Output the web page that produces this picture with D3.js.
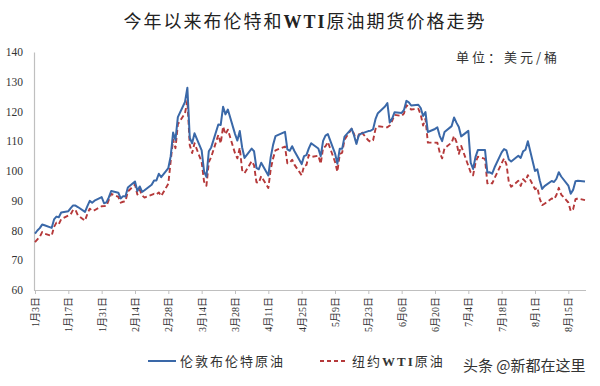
<!DOCTYPE html>
<html><head><meta charset="utf-8">
<script src="https://cdn.jsdelivr.net/npm/d3@7"></script>
<style>body{margin:0;background:#fff}svg{display:block}</style>
</head><body>
<svg id="c" width="600" height="386"></svg>
<script>
// ---- data (2022 trading days) ----
const dates = [
"01-03","01-04","01-05","01-06","01-07","01-10","01-11","01-12","01-13","01-14","01-17","01-18","01-19","01-20","01-21","01-24","01-25","01-26","01-27","01-28","01-31",
"02-01","02-02","02-03","02-04","02-07","02-08","02-09","02-10","02-11","02-14","02-15","02-16","02-17","02-18","02-21","02-22","02-23","02-24","02-25","02-28",
"03-01","03-02","03-03","03-04","03-07","03-08","03-09","03-10","03-11","03-14","03-15","03-16","03-17","03-18","03-21","03-22","03-23","03-24","03-25","03-28","03-29","03-30","03-31",
"04-01","04-04","04-05","04-06","04-07","04-08","04-11","04-12","04-13","04-14","04-18","04-19","04-20","04-21","04-22","04-25","04-26","04-27","04-28","04-29",
"05-02","05-03","05-04","05-05","05-06","05-09","05-10","05-11","05-12","05-13","05-16","05-17","05-18","05-19","05-20","05-23","05-24","05-25","05-26","05-27","05-30","05-31",
"06-01","06-02","06-03","06-06","06-07","06-08","06-09","06-10","06-13","06-14","06-15","06-16","06-17","06-20","06-21","06-22","06-23","06-24","06-27","06-28","06-29","06-30",
"07-01","07-04","07-05","07-06","07-07","07-08","07-11","07-12","07-13","07-14","07-15","07-18","07-19","07-20","07-21","07-22","07-25","07-26","07-27","07-28","07-29",
"08-01","08-02","08-03","08-04","08-05","08-08","08-09","08-10","08-11","08-12","08-15","08-16","08-17","08-18","08-19","08-22"
];
const brent = [
78.98,80.00,80.80,81.99,81.75,80.87,83.72,84.67,84.47,86.06,86.48,87.51,88.44,88.38,87.89,86.27,88.20,89.96,89.34,90.03,91.21,
89.16,89.47,91.11,93.27,92.69,90.78,91.55,91.41,94.44,96.48,93.28,94.81,92.97,93.54,95.39,96.84,96.84,99.08,97.93,100.99,
104.97,112.93,110.46,118.11,123.21,127.98,111.14,109.33,112.67,106.90,99.91,98.02,106.64,107.93,115.62,115.48,121.60,119.03,120.65,112.48,110.23,113.45,107.91,
104.39,107.53,106.64,101.07,100.58,102.78,98.48,104.64,108.78,111.70,113.16,107.25,106.80,108.33,106.65,102.32,104.99,105.32,107.59,109.34,
107.58,104.97,110.14,111.90,112.39,105.94,102.46,107.51,107.45,111.55,114.24,111.93,109.11,112.04,112.55,113.42,113.56,114.03,117.40,119.43,121.67,122.84,
116.29,117.61,119.72,119.51,120.57,123.58,123.07,122.01,122.27,121.17,118.51,119.81,113.12,114.13,114.65,111.74,110.05,113.12,115.09,117.98,116.26,114.81,
111.63,113.50,102.77,100.69,104.65,107.02,107.10,99.49,99.57,99.10,101.16,106.27,107.35,106.92,103.86,103.20,105.15,104.40,106.62,107.14,110.01,
100.03,100.54,96.78,93.96,94.92,96.65,96.31,97.40,99.60,98.15,95.10,92.34,93.65,96.59,96.72,96.48
];
const wti = [
76.08,76.99,77.85,79.46,78.90,78.23,81.22,82.64,82.12,83.82,null,85.43,86.96,86.90,85.14,83.31,85.60,87.35,86.61,86.82,88.15,
88.20,88.26,90.27,92.31,91.32,89.36,89.66,89.88,93.10,95.46,92.07,93.66,91.76,91.07,null,92.35,92.10,92.81,91.59,95.72,
103.41,110.60,107.67,115.68,119.40,123.70,108.70,106.02,109.33,103.01,96.44,95.04,102.98,104.70,112.12,109.27,114.93,112.34,113.90,105.96,104.24,107.82,100.28,
99.27,103.28,101.96,96.23,96.03,98.26,94.29,100.60,104.25,106.95,108.21,102.56,102.75,103.79,102.07,98.54,101.70,102.02,105.36,104.69,
105.17,102.41,107.81,108.26,109.77,103.09,99.76,105.71,106.13,110.49,114.20,112.40,109.59,112.21,113.23,110.29,109.77,110.33,114.09,115.07,null,114.67,
115.26,116.87,118.87,118.50,119.41,122.11,121.51,120.67,120.93,118.93,115.31,117.59,109.56,null,109.52,106.19,104.27,107.62,109.57,111.76,109.78,105.76,
108.43,null,99.50,98.53,102.73,104.79,104.09,95.84,96.30,95.78,97.59,102.60,104.22,102.26,96.35,94.70,96.70,94.98,97.26,96.42,98.62,
93.89,94.42,90.66,88.54,89.01,90.76,90.50,91.93,94.34,92.09,89.41,86.53,87.11,90.50,90.77,90.23
];
const tickDates = ["01-03","01-17","01-31","02-14","02-28","03-14","03-28","04-11","04-25","05-09","05-23","06-06","06-20","07-04","07-18","08-01","08-15"];
const tickLabels = ["1月3日","1月17日","1月31日","2月14日","2月28日","3月14日","3月28日","4月11日","4月25日","5月9日","5月23日","6月6日","6月20日","7月4日","7月18日","8月1日","8月15日"];
const yTicks = [60,70,80,90,100,110,120,130,140];
const seriesNames = ["伦敦布伦特原油","纽约WTI原油"];

// ---- drawing ----
const parse = s => new Date(2022, +s.slice(0,2)-1, +s.slice(3,5));
const svg = d3.select("#c");
svg.append("rect").attr("width",600).attr("height",386).attr("fill","#fff");

const x = d3.scaleTime().domain([parse("01-03"), parse("08-22")]).range([35, 585]);
const y = d3.scaleLinear().domain([60,140]).range([290, 52]);
const axisColor = "#bfbfbf";
const serif = "'Liberation Serif','Noto Sans CJK SC',serif";
const cjk = "'Noto Sans CJK SC','Liberation Serif',sans-serif";

// Y axis
const ya = svg.append("g").attr("transform","translate(34,0)")
  .call(d3.axisLeft(y).tickValues(yTicks).tickSize(0).tickPadding(11));
ya.select(".domain").attr("stroke", axisColor).attr("stroke-width",1.2);
ya.selectAll("text").attr("font-family", serif).attr("font-size", 11.5).attr("fill","#333");

// X axis
const xa = svg.append("g").attr("transform","translate(0,290)")
  .call(d3.axisBottom(x).tickValues(tickDates.map(parse)).tickSize(4).tickSizeOuter(0)
        .tickFormat((d,i)=>tickLabels[i]));
xa.select(".domain").attr("stroke", axisColor).attr("stroke-width",1.2)
  .attr("d","M34,0.5H586");
xa.selectAll(".tick line").attr("stroke", axisColor);
xa.selectAll(".tick text")
  .attr("font-family", serif).attr("font-size", 10).attr("fill","#333")
  .attr("text-anchor","end").attr("dy","0.35em")
  .attr("transform","translate(0,7) rotate(-90)").attr("x",0).attr("y",0);

// Lines
function pts(vals){ return dates.map((d,i)=>({d:parse(d), v:vals[i]})).filter(p=>p.v!=null); }
const line = d3.line().x(p=>x(p.d)).y(p=>y(p.v));
svg.append("path").datum(pts(wti)).attr("d",line).attr("fill","none")
  .attr("stroke","#b5393a").attr("stroke-width",1.9).attr("stroke-dasharray","5,3")
  .attr("stroke-linejoin","round");
svg.append("path").datum(pts(brent)).attr("d",line).attr("fill","none")
  .attr("stroke","#3a68a8").attr("stroke-width",2).attr("stroke-linejoin","round");

// Title
const t = svg.append("text").attr("x",305).attr("y",28).attr("text-anchor","middle")
  .attr("font-size",18).attr("fill","#222").attr("letter-spacing",2);
t.append("tspan").attr("font-family",cjk).text("今年以来布伦特和");
t.append("tspan").attr("font-family",serif).attr("font-weight","bold").text("WTI");
t.append("tspan").attr("font-family",cjk).text("原油期货价格走势");

// Unit
svg.append("text").attr("x",456).attr("y",62).attr("font-family",cjk).attr("font-size",13)
  .attr("letter-spacing",3).attr("fill","#333").text("单位：美元/桶");

// Legend
const lg = svg.append("g");
lg.append("line").attr("x1",148).attr("x2",176).attr("y1",361).attr("y2",361)
  .attr("stroke","#3a68a8").attr("stroke-width",2);
lg.append("text").attr("x",180).attr("y",366).attr("font-family",cjk).attr("font-size",13)
  .attr("letter-spacing",2).attr("fill","#333").text(seriesNames[0]);
lg.append("line").attr("x1",320).attr("x2",348).attr("y1",361).attr("y2",361)
  .attr("stroke","#b5393a").attr("stroke-width",2).attr("stroke-dasharray","4,3");
const l2 = lg.append("text").attr("x",352).attr("y",366).attr("font-size",13)
  .attr("letter-spacing",2).attr("fill","#333");
l2.append("tspan").attr("font-family",cjk).text("纽约");
l2.append("tspan").attr("font-family",serif).attr("font-weight","bold").text("WTI");
l2.append("tspan").attr("font-family",cjk).text("原油");

// Watermark
svg.append("text").attr("x",463).attr("y",371).attr("font-family",cjk).attr("font-size",15)
  .attr("fill","#333").text("头条 @新都在这里");
</script>
</body></html>
